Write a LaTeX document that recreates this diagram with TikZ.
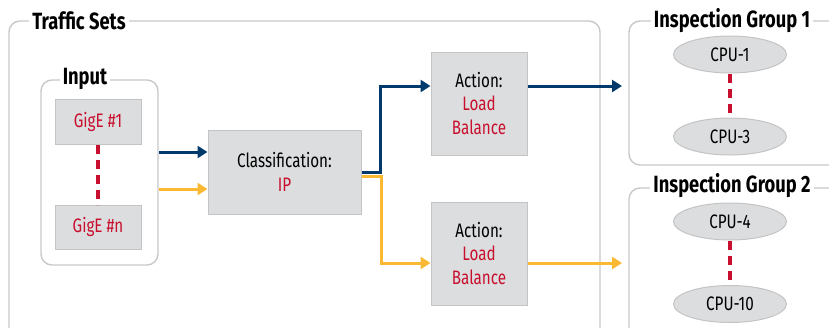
\documentclass[tikz,border=0pt]{standalone}
\usepackage{fontspec}
\setmainfont{Fira Sans}[FakeStretch=0.78]
\usetikzlibrary{arrows.meta,shapes.geometric,calc}
\definecolor{navy}{HTML}{003A6C}
\definecolor{gold}{HTML}{FBB832}
\definecolor{crim}{HTML}{C8102E}
\definecolor{boxfill}{HTML}{DCDDDE}
\definecolor{boxline}{HTML}{C4C4C4}
\definecolor{grpline}{HTML}{C8C8C8}
\tikzset{
  x=1pt, y=-1pt,
  grp/.style={draw=grpline, line width=1.4pt, rounded corners=11pt},
  grptitle/.style={fill=white, inner xsep=3pt, inner ysep=1pt, font=\fontsize{23.5}{24}\selectfont\bfseries},
  gbox/.style={draw=boxline, fill=boxfill, line width=1pt, inner sep=0pt, align=center, font=\fontsize{19.5}{23.5}\selectfont},
  cpu/.style={ellipse, draw=boxline, fill=boxfill, line width=1pt, inner sep=0pt, minimum width=113pt, minimum height=37pt, font=\fontsize{19.5}{23.5}\selectfont},
  dots/.style={draw=crim, line width=4.5pt, dash pattern=on 9pt off 6pt},
  bflow/.style={draw=navy, line width=3pt, -{Triangle[length=10pt,width=12pt]}},
  yflow/.style={draw=gold, line width=3pt, -{Triangle[length=10pt,width=12pt]}},
}
\begin{document}
\begin{tikzpicture}
\useasboundingbox (0,0) rectangle (829,327);
\clip (0,0) rectangle (829,327);
% groups
\draw[grp] (9,21) rectangle (600,340);
\node[grptitle] (tts) at (79,21) {Traffic Sets};
\node[grp, draw, minimum width=117pt, minimum height=185pt, inner sep=0pt] (inp) at (99.5,172.5) {};
\node[grptitle] (tin) at (85,79) {Input};
\draw[grp] (629,21) rectangle (845,165);
\node[grptitle] (tg1) at (732,21) {Inspection Group 1};
\draw[grp] (629,188) rectangle (845,345);
\node[grptitle] (tg2) at (732,186) {Inspection Group 2};
% boxes
\node[gbox, minimum width=86pt, minimum height=45pt] (g1) at (98,121.5) {\color{crim}GigE \#1};
\node[gbox, minimum width=86pt, minimum height=44pt] (gn) at (98,227) {\color{crim}GigE \#n};
\node[gbox, minimum width=153pt, minimum height=84pt] (cls) at (284.5,172) {Classification:\\\color{crim}IP};
\node[gbox, minimum width=96pt, minimum height=103pt] (a1) at (479,103.5) {Action:\\\color{crim}Load\\\color{crim}Balance};
\node[gbox, minimum width=96pt, minimum height=103pt] (a2) at (479,253.5) {Action:\\\color{crim}Load\\\color{crim}Balance};
\node[cpu] (c1) at (730,54.5) {CPU-1};
\node[cpu] (c3) at (730,136.5) {CPU-3};
\node[cpu] (c4) at (730,221.5) {CPU-4};
\node[cpu] (c10) at (730,304) {CPU-10};
% dashed links
\draw[dots] (g1.south) -- (gn.north);
\draw[dots] (c1.south) -- (c3.north);
\draw[dots] (c4.south) -- (c10.north);
% flows
\coordinate (o1) at (622,86);
\coordinate (o2) at (622,263);
\draw[bflow] (inp.east |- 0,152) -- (cls.west |- 0,152);
\draw[yflow] (inp.east |- 0,189) -- (cls.west |- 0,189);
\draw[yflow, rounded corners=0pt] (cls.east |- 0,176) -- (381,176) -- (381,263) -- (a2.west |- 0,263);
\draw[bflow] (cls.east |- 0,172.5) -- (380,172.5) -- (380,86) -- (a1.west |- 0,86);
\draw[bflow] (a1.east |- o1) -- (o1);
\draw[yflow] (a2.east |- o2) -- (o2);
\end{tikzpicture}
\end{document}
